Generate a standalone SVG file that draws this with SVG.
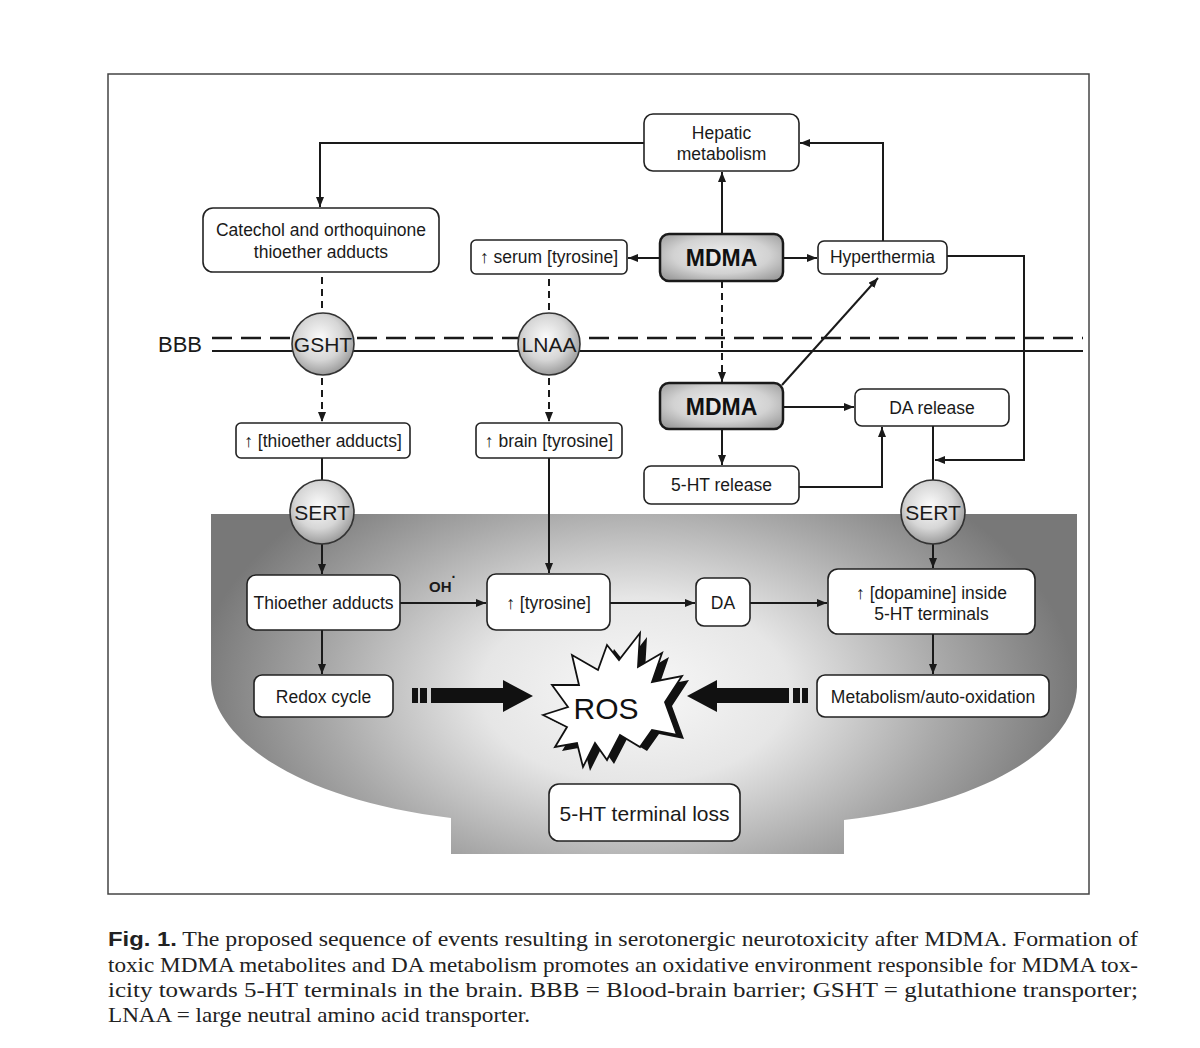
<svg xmlns="http://www.w3.org/2000/svg" width="1200" height="1048" viewBox="0 0 1200 1048">
<defs>
<style>
.box{fill:#fff;stroke:#222;stroke-width:1.6}
.lbl{font-family:"Liberation Sans",Arial,sans-serif;font-size:17.5px;fill:#1a1a1a;text-anchor:middle}
.big{font-family:"Liberation Sans",Arial,sans-serif;font-size:23px;font-weight:bold;fill:#111;text-anchor:middle}
.circ{fill:url(#cg);stroke:#333;stroke-width:1.6}
.ctx{font-family:"Liberation Sans",Arial,sans-serif;font-size:21px;fill:#1a1a1a;text-anchor:middle}
.ln{fill:none;stroke:#1a1a1a;stroke-width:2}
.dash{fill:none;stroke:#1a1a1a;stroke-width:2;stroke-dasharray:7 5}
.cap{font-family:"Liberation Serif","Times New Roman",serif;font-size:21px;fill:#222}
</style>
<marker id="ah" viewBox="0 0 10 8" refX="10" refY="4" markerWidth="10" markerHeight="8" markerUnits="userSpaceOnUse" orient="auto">
<path d="M0,0 L10,4 L0,8 Z" fill="#1a1a1a"/>
</marker>
<radialGradient id="bowl" gradientUnits="userSpaceOnUse" cx="635" cy="690" r="440" gradientTransform="translate(635,690) scale(1,0.6) translate(-635,-690)">
<stop offset="0" stop-color="#f8f8f8"/>
<stop offset="0.35" stop-color="#e6e6e6"/>
<stop offset="0.7" stop-color="#a9a9a9"/>
<stop offset="1" stop-color="#787878"/>
</radialGradient>
<radialGradient id="cg" cx="0.45" cy="0.4" r="0.6">
<stop offset="0" stop-color="#fbfbfb"/>
<stop offset="0.6" stop-color="#d6d6d6"/>
<stop offset="1" stop-color="#9c9c9c"/>
</radialGradient>
<radialGradient id="mg" cx="0.5" cy="0.45" r="0.65">
<stop offset="0" stop-color="#f0f0f0"/>
<stop offset="0.6" stop-color="#d2d2d2"/>
<stop offset="1" stop-color="#9e9e9e"/>
</radialGradient>
</defs>
<rect width="1200" height="1048" fill="#fff"/>
<rect x="108" y="74" width="981" height="820" fill="none" stroke="#444" stroke-width="1.5"/>

<g id="brain-bowl">
<path d="M211,514 H1077 V687 C1075,745 990,803 844,820 V854 H451 V818 C300,800 213,740 211,680 Z" fill="url(#bowl)"/>
</g>

<g id="bbb">
<line x1="212" y1="338" x2="1083" y2="338" stroke="#1a1a1a" stroke-width="2.5" stroke-dasharray="20 9"/>
<line x1="212" y1="351" x2="1083" y2="351" stroke="#1a1a1a" stroke-width="2"/>
<text x="158" y="352" style="font-family:'Liberation Sans',Arial,sans-serif;font-size:22px;fill:#1a1a1a">BBB</text>
</g>

<g id="connectors">
<path class="ln" d="M644,143 H320 V207" marker-end="url(#ah)"/>
<path class="ln" d="M722,234 V172" marker-end="url(#ah)"/>
<path class="ln" d="M660,258 H628" marker-end="url(#ah)"/>
<path class="ln" d="M783,258 H817" marker-end="url(#ah)"/>
<path class="ln" d="M883,241 V143 H800" marker-end="url(#ah)"/>
<path class="ln" d="M947,256 H1024 V460 H935" marker-end="url(#ah)"/>
<path class="dash" d="M722,281 V382" marker-end="url(#ah)"/>
<path class="ln" d="M782,385 L878,278" marker-end="url(#ah)"/>
<path class="ln" d="M783,407 H854" marker-end="url(#ah)"/>
<path class="ln" d="M722,429 V465" marker-end="url(#ah)"/>
<path class="ln" d="M799,487 H882 V427" marker-end="url(#ah)"/>
<path class="ln" d="M933,426 V481"/>
<path class="ln" d="M933,544 V568" marker-end="url(#ah)"/>
<path class="ln" d="M933,634 V674" marker-end="url(#ah)"/>
<path class="dash" d="M322,277 V313"/>
<path class="dash" d="M322,378 V422" marker-end="url(#ah)"/>
<path class="dash" d="M549,279 V313"/>
<path class="dash" d="M549,378 V422" marker-end="url(#ah)"/>
<path class="ln" d="M322,458 V481"/>
<path class="ln" d="M322,544 V574" marker-end="url(#ah)"/>
<path class="ln" d="M322,630 V674" marker-end="url(#ah)"/>
<path class="ln" d="M400,603 H486" marker-end="url(#ah)"/>
<path class="ln" d="M549,458 V573" marker-end="url(#ah)"/>
<path class="ln" d="M610,603 H695" marker-end="url(#ah)"/>
<path class="ln" d="M750,603 H827" marker-end="url(#ah)"/>
<g id="thick-arrows" fill="#111">
<rect x="412" y="688" width="6" height="15"/>
<rect x="420" y="688" width="7" height="15"/>
<path d="M431,688 H503 V680 L533,696 L503,712 V703 H431 Z"/>
<rect x="802" y="688" width="6" height="15"/>
<rect x="793" y="688" width="7" height="15"/>
<path d="M789,688 H717 V680 L687,696 L717,712 V703 H789 Z"/>
</g>
<text x="429" y="592" style="font-family:'Liberation Sans',Arial,sans-serif;font-size:15px;font-weight:bold;fill:#1a1a1a">OH<tspan font-size="14" dy="-10">·</tspan></text>
</g>

<g id="hepatic">
<rect class="box" x="644" y="114" width="155" height="57" rx="9"/>
<text class="lbl" x="721.5" y="139">Hepatic</text>
<text class="lbl" x="721.5" y="160">metabolism</text>
</g>
<g id="catechol">
<rect class="box" x="203" y="208" width="236" height="64" rx="10"/>
<text class="lbl" x="321" y="236">Catechol and orthoquinone</text>
<text class="lbl" x="321" y="258">thioether adducts</text>
</g>
<g id="serum-tyrosine">
<rect class="box" x="471" y="240" width="156" height="34" rx="5"/>
<text class="lbl" x="549" y="263">↑ serum [tyrosine]</text>
</g>
<g id="mdma-top">
<rect x="660" y="234" width="123" height="47" rx="9" fill="url(#mg)" stroke="#1a1a1a" stroke-width="2.5"/>
<text class="big" x="721.5" y="266">MDMA</text>
</g>
<g id="hyperthermia">
<rect class="box" x="818" y="241" width="129" height="33" rx="6"/>
<text class="lbl" x="882.5" y="263">Hyperthermia</text>
</g>
<g id="gsht">
<circle class="circ" cx="323" cy="344" r="31"/>
<text class="ctx" x="323" y="352">GSHT</text>
</g>
<g id="lnaa">
<circle class="circ" cx="549" cy="344" r="31"/>
<text class="ctx" x="549" y="352">LNAA</text>
</g>
<g id="mdma-brain">
<rect x="660" y="383" width="123" height="46" rx="9" fill="url(#mg)" stroke="#1a1a1a" stroke-width="2.5"/>
<text class="big" x="721.5" y="415">MDMA</text>
</g>
<g id="da-release">
<rect class="box" x="855" y="389" width="154" height="37" rx="7"/>
<text class="lbl" x="932" y="414">DA release</text>
</g>
<g id="ht-release">
<rect class="box" x="644" y="466" width="155" height="38" rx="7"/>
<text class="lbl" x="721.5" y="491">5-HT release</text>
</g>
<g id="thioether-up">
<rect class="box" x="236" y="423" width="174" height="35" rx="5"/>
<text class="lbl" x="323" y="447">↑ [thioether adducts]</text>
</g>
<g id="brain-tyrosine">
<rect class="box" x="476" y="423" width="146" height="35" rx="5"/>
<text class="lbl" x="549" y="447">↑ brain [tyrosine]</text>
</g>
<g id="sert-left">
<circle class="circ" cx="322" cy="512" r="32"/>
<text class="ctx" x="322" y="520">SERT</text>
</g>
<g id="sert-right">
<circle class="circ" cx="933" cy="512" r="32"/>
<text class="ctx" x="933" y="520">SERT</text>
</g>
<g id="thioether-adducts">
<rect class="box" x="247" y="575" width="153" height="55" rx="9"/>
<text class="lbl" x="323.5" y="609">Thioether adducts</text>
</g>
<g id="tyrosine">
<rect class="box" x="487" y="574" width="123" height="56" rx="9"/>
<text class="lbl" x="548.5" y="609">↑ [tyrosine]</text>
</g>
<g id="da">
<rect class="box" x="696" y="578" width="54" height="48" rx="8"/>
<text class="lbl" x="723" y="609">DA</text>
</g>
<g id="dopamine">
<rect class="box" x="828" y="569" width="207" height="65" rx="10"/>
<text class="lbl" x="931.5" y="599">↑ [dopamine] inside</text>
<text class="lbl" x="931.5" y="620">5-HT terminals</text>
</g>
<g id="redox">
<rect class="box" x="254" y="675" width="139" height="42" rx="8"/>
<text class="lbl" x="323.5" y="703">Redox cycle</text>
</g>
<g id="metabolism">
<rect class="box" x="817" y="675" width="232" height="42" rx="8"/>
<text class="lbl" x="933" y="703">Metabolism/auto-oxidation</text>
</g>
<g id="ros">
<polygon transform="translate(7,4)" fill="#111" points="543,715 568,707 552,685 579,685 572,655 598,670 607,645 619,660 640,633 638,667 662,653 652,682 682,676 665,702 677,735 652,730 640,747 620,735 607,760 595,743 583,767 577,743 555,747 567,727"/>
<polygon fill="#fff" stroke="#111" stroke-width="1.8" stroke-linejoin="miter" points="543,715 568,707 552,685 579,685 572,655 598,670 607,645 619,660 640,633 638,667 662,653 652,682 682,676 665,702 677,735 652,730 640,747 620,735 607,760 595,743 583,767 577,743 555,747 567,727"/>
<text x="606" y="719" style="font-family:'Liberation Sans',Arial,sans-serif;font-size:30px;fill:#111;text-anchor:middle">ROS</text>
</g>
<g id="terminal-loss">
<rect class="box" x="549" y="784" width="191" height="57" rx="10" stroke-width="2.2"/>
<text class="ctx" x="644.5" y="821">5-HT terminal loss</text>
</g>

<g id="caption">
<text class="cap" x="108" y="946" textLength="1030" lengthAdjust="spacingAndGlyphs"><tspan style="font-family:'Liberation Sans',Arial,sans-serif;font-weight:bold">Fig. 1.</tspan> The proposed sequence of events resulting in serotonergic neurotoxicity after MDMA. Formation of</text>
<text class="cap" x="108" y="972" textLength="1030" lengthAdjust="spacingAndGlyphs">toxic MDMA metabolites and DA metabolism promotes an oxidative environment responsible for MDMA tox-</text>
<text class="cap" x="108" y="997" textLength="1030" lengthAdjust="spacingAndGlyphs">icity towards 5-HT terminals in the brain. BBB = Blood-brain barrier; GSHT = glutathione transporter;</text>
<text class="cap" x="108" y="1022" textLength="422" lengthAdjust="spacingAndGlyphs">LNAA = large neutral amino acid transporter.</text>
</g>
</svg>
